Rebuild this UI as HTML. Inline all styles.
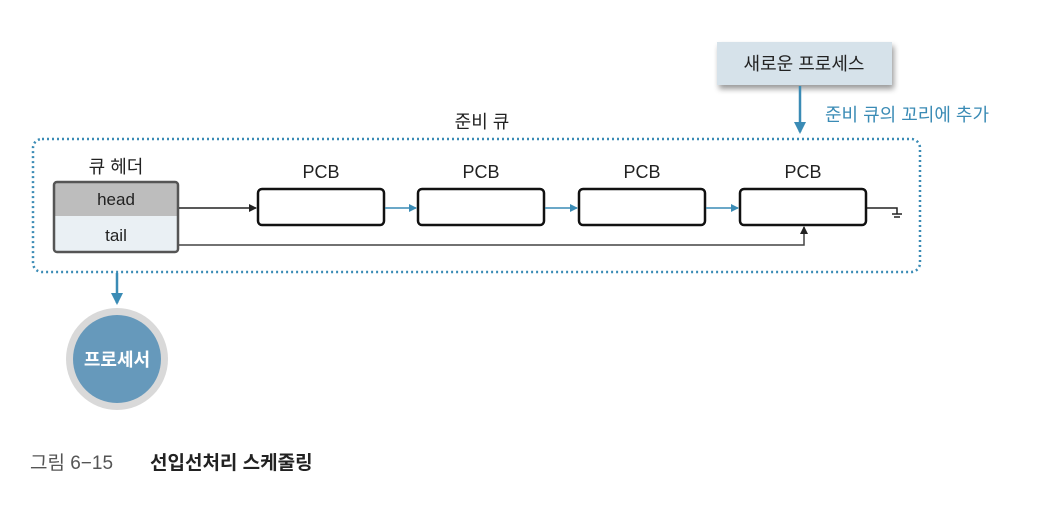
<!DOCTYPE html>
<html><head><meta charset="utf-8"><style>
body{margin:0;background:#fff;}
svg text{font-family:"Liberation Sans","Noto Sans CJK KR",sans-serif;}
</style></head><body>
<svg width="1040" height="506" viewBox="0 0 1040 506" xmlns="http://www.w3.org/2000/svg">
<defs>
<marker id="ab" markerWidth="8" markerHeight="8" refX="7" refY="4" orient="auto" markerUnits="userSpaceOnUse"><path d="M0,0 L8,4 L0,8 Z" fill="#222"/></marker>
<marker id="ablue" markerWidth="8" markerHeight="8" refX="7" refY="4" orient="auto" markerUnits="userSpaceOnUse"><path d="M0,0 L8,4 L0,8 Z" fill="#3a8bb5"/></marker>
<marker id="abl2" markerWidth="12" markerHeight="12" refX="10" refY="6" orient="auto" markerUnits="userSpaceOnUse"><path d="M0,0 L12,6 L0,12 Z" fill="#3a8bb5"/></marker>
<filter id="sh" x="-20%" y="-20%" width="140%" height="160%"><feGaussianBlur in="SourceAlpha" stdDeviation="3"/><feOffset dx="2" dy="4"/><feComponentTransfer><feFuncA type="linear" slope="0.4"/></feComponentTransfer><feMerge><feMergeNode/><feMergeNode in="SourceGraphic"/></feMerge></filter>
</defs>
<!-- new process -->
<rect x="717" y="42" width="175" height="43" fill="#d6e2ea" filter="url(#sh)"/>
<text x="804" y="70" font-size="18" text-anchor="middle" fill="#222">새로운 프로세스</text>
<line x1="800" y1="86" x2="800" y2="132" stroke="#3a8bb5" stroke-width="2.5" marker-end="url(#abl2)"/>
<text x="825" y="121" font-size="18" fill="#3a8bb5">준비 큐의 꼬리에 추가</text>
<text x="482" y="128" font-size="18" text-anchor="middle" fill="#222">준비 큐</text>
<!-- dotted box -->
<rect x="33" y="139" width="887" height="133" rx="9" fill="none" stroke="#3a8bb5" stroke-width="2.5" stroke-dasharray="2 3"/>
<!-- queue header -->
<text x="116" y="173" font-size="18" text-anchor="middle" fill="#222">큐 헤더</text>
<rect x="54" y="182" width="124" height="34" fill="#bdbdbd"/>
<rect x="54" y="216" width="124" height="36" fill="#eaf0f4"/>
<rect x="54" y="182" width="124" height="70" rx="3" fill="none" stroke="#555" stroke-width="2.5"/>
<text x="116" y="205" font-size="17" text-anchor="middle" fill="#222">head</text>
<text x="116" y="241" font-size="17" text-anchor="middle" fill="#222">tail</text>
<!-- PCBs -->
<g fill="#fff" stroke="#111" stroke-width="2.5">
<rect x="258" y="189" width="126" height="36" rx="4"/>
<rect x="418" y="189" width="126" height="36" rx="4"/>
<rect x="579" y="189" width="126" height="36" rx="4"/>
<rect x="740" y="189" width="126" height="36" rx="4"/>
</g>
<g font-size="18" text-anchor="middle" fill="#222">
<text x="321" y="178">PCB</text><text x="481" y="178">PCB</text><text x="642" y="178">PCB</text><text x="803" y="178">PCB</text>
</g>
<line x1="179" y1="208" x2="256" y2="208" stroke="#222" stroke-width="1.5" marker-end="url(#ab)"/>
<g stroke="#3a8bb5" stroke-width="1.5">
<line x1="385" y1="208" x2="416" y2="208" marker-end="url(#ablue)"/>
<line x1="545" y1="208" x2="577" y2="208" marker-end="url(#ablue)"/>
<line x1="706" y1="208" x2="738" y2="208" marker-end="url(#ablue)"/>
</g>
<polyline points="179,245 804,245 804,227" fill="none" stroke="#444" stroke-width="1.5" marker-end="url(#ab)"/>
<polyline points="867,208 897,208 897,214" fill="none" stroke="#222" stroke-width="1.5"/>
<line x1="892" y1="214" x2="902" y2="214" stroke="#222" stroke-width="1.5"/>
<line x1="894" y1="217" x2="900" y2="217" stroke="#222" stroke-width="1.5"/>
<!-- processor -->
<line x1="117" y1="273" x2="117" y2="303" stroke="#3a8bb5" stroke-width="2.5" marker-end="url(#abl2)"/>
<circle cx="117" cy="359" r="51" fill="#d9d9d9"/>
<circle cx="117" cy="359" r="44" fill="#6699bb"/>
<text x="117" y="366" font-size="18" font-weight="bold" text-anchor="middle" fill="#fff">프로세서</text>
<!-- caption -->
<text x="30" y="469" font-size="19" fill="#555">그림 6−15</text>
<text x="150" y="469" font-size="19" font-weight="bold" fill="#222">선입선처리 스케줄링</text>
</svg>
</body></html>
